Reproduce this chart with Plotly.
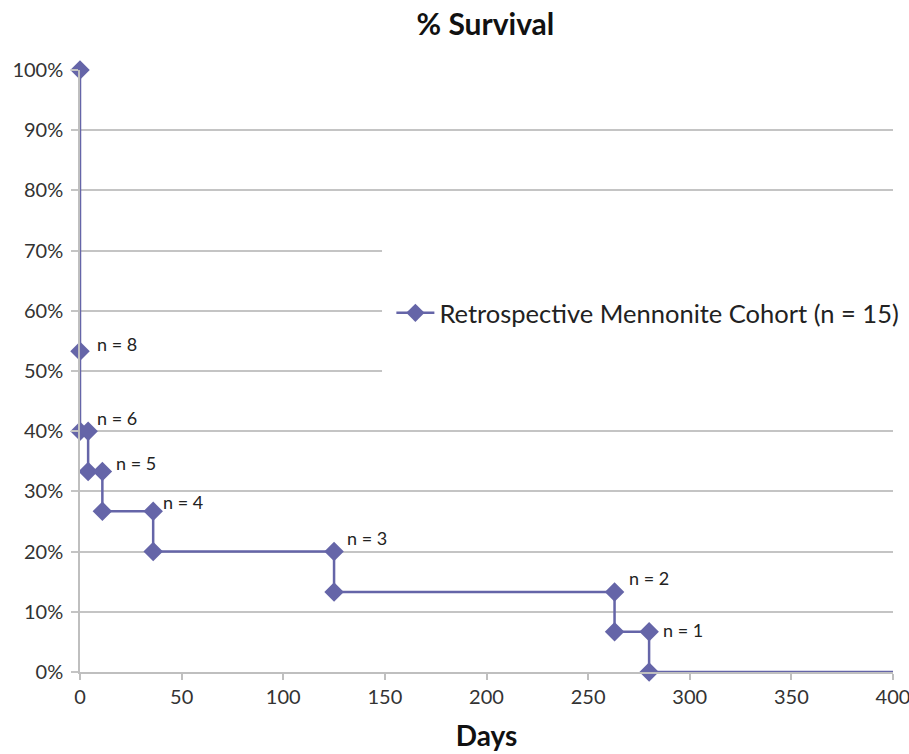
import plotly.graph_objects as go

# Kaplan-Meier style step data (days, survival fraction)
days = [0, 0, 0, 4, 4, 11, 11, 36, 36, 125, 125, 263, 263, 280, 280, 400]
survival = [1.0, 0.533, 0.40, 0.40, 0.333, 0.333, 0.267, 0.267, 0.20, 0.20,
            0.133, 0.133, 0.067, 0.067, 0.0, 0.0]
marker_sizes = [15] * 15 + [0]

# at-risk labels
label_x = [0, 4, 11, 36, 125, 263, 280]
label_y = [0.533, 0.40, 0.333, 0.267, 0.20, 0.133, 0.067]
label_text = ["n = 8", "n = 6", "n = 5", "n = 4", "n = 3", "n = 2", "n = 1"]
label_dx = [15, 7, 12, 8, 11, 12, 12]
label_dy = [7, 13, 9, 9, 14, 14, 2]

series_name = "Retrospective Mennonite Cohort (n = 15)"
color = "#6565a8"
font = "Lato, 'Open Sans', sans-serif"
txt = "#333333"

fig = go.Figure()
fig.add_trace(go.Scatter(
    x=days, y=survival, mode="lines+markers", name=series_name,
    line=dict(color=color, width=2.5),
    marker=dict(symbol="diamond", size=marker_sizes, color=color, opacity=1,
                line=dict(width=0)),
    cliponaxis=False, showlegend=True,
))

for x, y, t, dx, dy in zip(label_x, label_y, label_text, label_dx, label_dy):
    fig.add_annotation(x=x, y=y, text=t, showarrow=False, xanchor="left",
                       yanchor="middle", xshift=dx, yshift=dy,
                       font=dict(family=font, size=18, color="#222222"))

# white box behind legend hiding gridlines
fig.add_shape(type="rect", xref="x", yref="y", x0=148.6, x1=410, y0=0.47, y1=0.74,
              fillcolor="white", line=dict(width=0), layer="above")

fig.update_layout(
    width=909, height=754,
    margin=dict(l=80, r=16, t=70, b=82, autoexpand=False),
    paper_bgcolor="white", plot_bgcolor="white",
    title=dict(text="<b>% Survival</b>", x=0.534, xanchor="center", y=0.967, yanchor="middle",
               font=dict(family=font, size=30, color="#111111")),
    showlegend=True,
    legend=dict(x=0.383, y=0.596, xanchor="left", yanchor="middle", itemwidth=38,
                bgcolor="rgba(0,0,0,0)", font=dict(family=font, size=25.5, color="#222222")),
    font=dict(family=font, color=txt),
)
fig.update_xaxes(
    range=[0, 400], tickmode="linear", tick0=0, dtick=50, automargin=False,
    ticklabeloverflow="allow",
    showgrid=False, zeroline=False, showline=True, linecolor="#bfbfbf", linewidth=1.5,
    ticks="outside", ticklen=6, tickcolor="#bfbfbf", tickwidth=1.5,
    tickfont=dict(family=font, size=20, color=txt),
    title=dict(text="<b>Days</b>", font=dict(family=font, size=28, color="#111111"), standoff=20),
)
fig.update_yaxes(
    range=[0, 1], tickmode="linear", tick0=0, dtick=0.1, tickformat=".0%", automargin=False,
    ticklabeloverflow="allow", ticklabelstandoff=4,
    showgrid=True, gridcolor="#c4c4c4", gridwidth=1.5,
    zeroline=False, showline=True, linecolor="#bfbfbf", linewidth=1.5,
    ticks="outside", ticklen=7, tickcolor="#c4c4c4", tickwidth=1.5,
    tickfont=dict(family=font, size=20, color=txt),
)

fig.write_html("out.html")
